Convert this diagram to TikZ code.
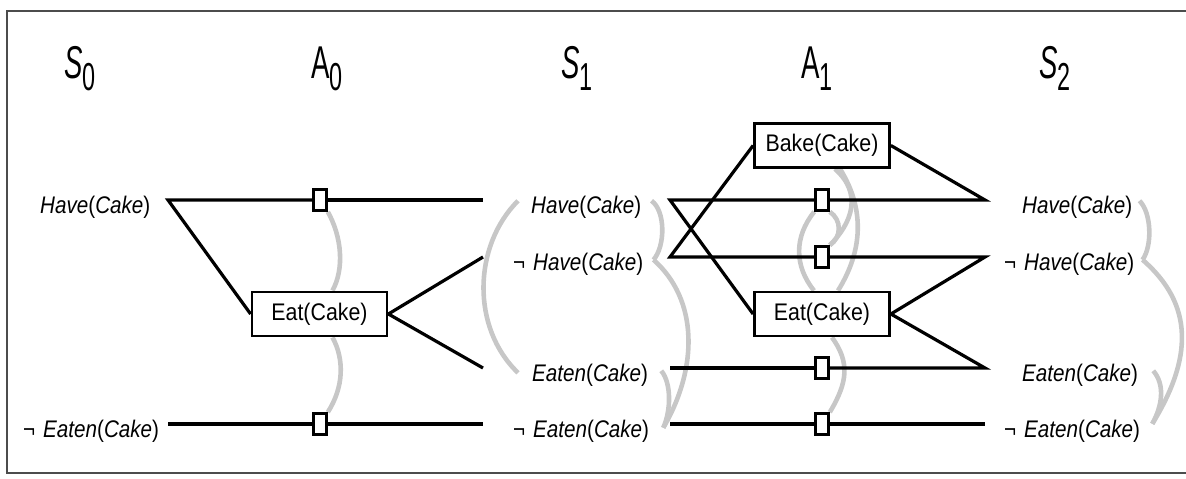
\documentclass[tikz,border=0pt]{standalone}
\usepackage{fontspec}
\setmainfont{Liberation Sans}
\newfontfamily\hdfont[FakeStretch=0.6]{Liberation Sans}
\newfontfamily\lbfont[FakeStretch=0.86]{Liberation Sans}
\newfontfamily\bxfont[FakeStretch=0.89]{Liberation Sans}
\usetikzlibrary{calc}
\pgfdeclarelayer{mutex}
\pgfdeclarelayer{links}
\pgfsetlayers{mutex,links,main}

% level heading: big letter with a lowered index
\newcommand\lvl[2]{{\fontsize{46}{46}\selectfont #1}\raisebox{-12pt}{\fontsize{39}{39}\selectfont #2}}
% literal: italic predicate and argument, upright parentheses
\newcommand\lit[2]{\textit{#1}(\textit{#2})}
% negated literal: the sign hangs to the left of the word
\newcommand\neglit[1]{\llap{¬\hspace{8pt}}#1}

\tikzset{
  hdr/.style={anchor=base west, inner sep=0pt, font=\hdfont},
  lit/.style={anchor=base west, inner sep=0pt, font=\lbfont\fontsize{24}{28}\selectfont},
  actbox/.style={draw, line width=2.8pt, fill=white, minimum width=135pt,
    minimum height=44pt, inner sep=0pt, font=\bxfont\fontsize{24}{28}\selectfont},
  pbox/.style={draw, line width=2.6pt, fill=white, minimum width=13pt,
    minimum height=21pt, inner sep=0pt},
  link/.style={line width=3.2pt, line join=miter},
  mx/.style={draw=black!22, line width=4.6pt},
  frame/.style={draw=black!70, line width=2pt},
}

\begin{document}
\begin{tikzpicture}[x=1pt,y=-1pt]
\useasboundingbox (0,0) rectangle (1186,479);

% frame, open on the right
\draw[frame] (1186,11) -- (6.5,11) -- (6.5,473) -- (1186,473);

% level headings
\node[hdr] (hS0) at (64,78)   {\lvl{\textit{S}}{0}};
\node[hdr] (hA0) at (311,78)  {\lvl{A}{0}};
\node[hdr] (hS1) at (561,78)  {\lvl{\textit{S}}{1}};
\node[hdr] (hA1) at (801,78)  {\lvl{A}{1}};
\node[hdr] (hS2) at (1039,78) {\lvl{\textit{S}}{2}};

% state level S0
\node[lit] (s0h)  at (40,213) {\lit{Have}{Cake}};
\node[lit] (s0ne) at (43,437) {\neglit{\lit{Eaten}{Cake}}};
% state level S1
\node[lit] (s1h)  at (531,213) {\lit{Have}{Cake}};
\node[lit] (s1nh) at (533,270) {\neglit{\lit{Have}{Cake}}};
\node[lit] (s1e)  at (532,381) {\lit{Eaten}{Cake}};
\node[lit] (s1ne) at (533,437) {\neglit{\lit{Eaten}{Cake}}};
% state level S2
\node[lit] (s2h)  at (1022,213) {\lit{Have}{Cake}};
\node[lit] (s2nh) at (1024,270) {\neglit{\lit{Have}{Cake}}};
\node[lit] (s2e)  at (1022,381) {\lit{Eaten}{Cake}};
\node[lit] (s2ne) at (1024,437) {\neglit{\lit{Eaten}{Cake}}};

% line ends at the state levels
\coordinate (in0h)  at (168,200);
\coordinate (in0ne) at (168,424);
\coordinate (out0h)  at (483,200);
\coordinate (out0nh) at (483,257);
\coordinate (out0e)  at (483,368);
\coordinate (out0ne) at (483,424);
\coordinate (in1h)  at (670,200);
\coordinate (in1nh) at (670,257);
\coordinate (in1e)  at (670,368);
\coordinate (in1ne) at (670,424);
\coordinate (out1h)  at (985,200);
\coordinate (out1nh) at (985,257);
\coordinate (out1e)  at (985,368);
\coordinate (out1ne) at (985,424);

% action level A0
\node[actbox] (eat0) at (319.5,314) {Eat(Cake)};
\node[pbox] (p0h)  at (320,200) {};
\node[pbox] (p0ne) at (320,424) {};
% action level A1
\node[actbox] (bake1) at (822,145.5) {Bake(Cake)};
\node[actbox] (eat1)  at (822,314) {Eat(Cake)};
\node[pbox] (p1h)  at (822,200) {};
\node[pbox] (p1nh) at (822,257) {};
\node[pbox] (p1e)  at (822,368) {};
\node[pbox] (p1ne) at (822,424) {};

% preconditions and effects
\begin{pgfonlayer}{links}
\draw[link] (eat0.west) -- (in0h) -- (p0h.west);
\draw[link] (p0h.east) -- (out0h);
\draw[link] (out0nh) -- (eat0.east) -- (out0e);
\draw[link] (in0ne) -- (p0ne.west);
\draw[link] (p0ne.east) -- (out0ne);

\draw[link] (eat1.west) -- (in1h) -- (p1h.west);
\draw[link] (p1h.east) -- (out1h) -- (bake1.east);
\draw[link] (bake1.west) -- (in1nh) -- (p1nh.west);
\draw[link] (p1nh.east) -- (out1nh) -- (eat1.east) -- (out1e) -- (p1e.east);
\draw[link] (in1e) -- (p1e.west);
\draw[link] (in1ne) -- (p1ne.west);
\draw[link] (p1ne.east) -- (out1ne);
\end{pgfonlayer}

% mutex links
\begin{pgfonlayer}{mutex}
% A0
\draw[mx] (p0h.south east) .. controls +(14,25) and +(12,-22) .. ([xshift=13pt]eat0.north);
\draw[mx] ([xshift=13pt]eat0.south) .. controls +(12,22) and +(16,-25) .. (p0ne.north east);
% S1
\draw[mx] ([shift={(-13,-6)}]s1h.west) .. controls +(-45,45) and +(-47,-45) .. ([shift={(-14,-2)}]s1e.west);
\draw[mx] ([shift={(10,-6)}]s1h.east) .. controls +(14,10) and +(12,-14) .. ([shift={(10,-4)}]s1nh.east);
\draw[mx] ([shift={(10,-4)}]s1nh.east) .. controls +(45,40) and +(35,-60) .. ([shift={(14,-3)}]s1ne.east);
\draw[mx] ([shift={(13,-4)}]s1e.east) .. controls +(10,12) and +(8,-18) .. ([shift={(14,-3)}]s1ne.east);
% A1
\draw[mx] (p1h.south east) .. controls +(12,8) and +(12,-8) .. (p1nh.north east);
\draw[mx] ([xshift=13pt]bake1.south) .. controls +(28,25) and +(22,-22) .. (p1nh.north east);
\draw[mx] ([xshift=18pt]bake1.south) .. controls +(25,40) and +(25,-40) .. ([xshift=16pt]eat1.north);
\draw[mx] (p1h.south west) .. controls +(-20,25) and +(-20,-25) .. ([xshift=-8pt]eat1.north);
\draw[mx] ([xshift=10pt]eat1.south) .. controls +(18,25) and +(18,-30) .. (p1ne.north east);
% S2
\draw[mx] ([shift={(7,-6)}]s2h.east) .. controls +(12,12) and +(10,-14) .. ([shift={(8,-4)}]s2nh.east);
\draw[mx] ([shift={(8,-4)}]s2nh.east) .. controls +(52,45) and +(40,-65) .. ([shift={(12,-7)}]s2ne.east);
\draw[mx] ([shift={(15,-4)}]s2e.east) .. controls +(12,14) and +(10,-18) .. ([shift={(12,-7)}]s2ne.east);
\end{pgfonlayer}
\end{tikzpicture}
\end{document}
